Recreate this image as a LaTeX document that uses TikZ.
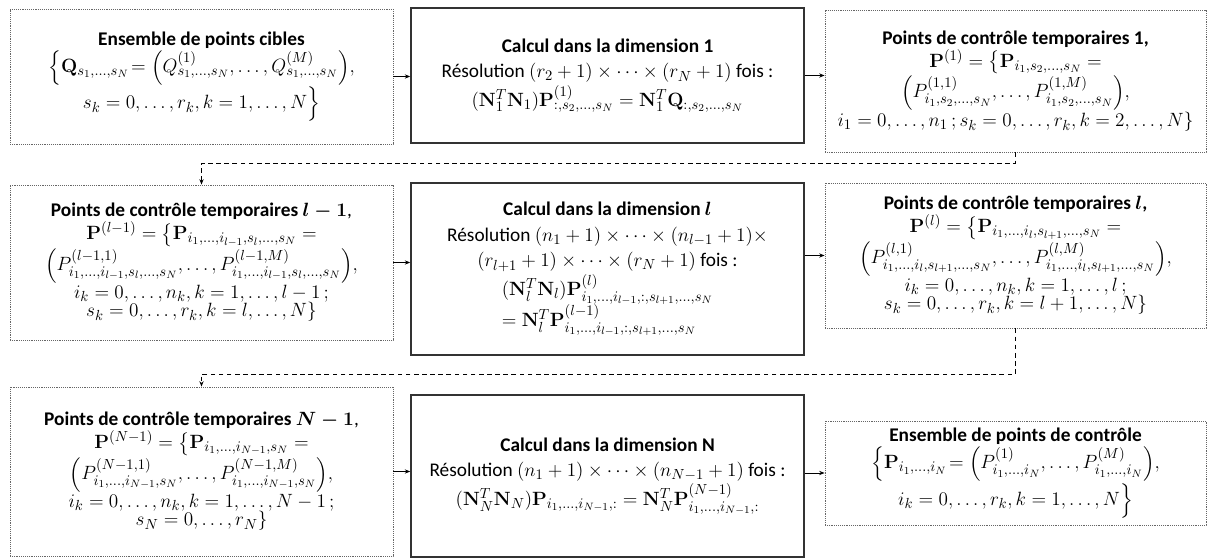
\documentclass[tikz,border=0pt]{standalone}
\usepackage{amsmath}
\usepackage[no-math]{fontspec}
\setmainfont{Carlito}
\DeclareMathSizes{14.5}{15}{10.5}{8}
\usetikzlibrary{arrows.meta}
\newcommand{\myboxfont}{\fontsize{14.5}{14}\selectfont\setlength{\lineskip}{1.5pt}}
\newcommand{\mycalcfont}{\fontsize{14.5}{19}\selectfont\setlength{\lineskip}{2pt}}
\tikzset{
  basebox/.style={align=center, inner sep=2pt, anchor=center},
  dotbox/.style={basebox, font=\myboxfont, draw=black!60, line width=0.7pt, dash pattern=on 0.7pt off 0.7pt},
  calcbox/.style={basebox, font=\mycalcfont, draw=black!80, line width=1.3pt},
  wA/.style={minimum width=287.25pt},
  wB/.style={minimum width=294.75pt},
  wC/.style={minimum width=285.75pt},
  conn/.style={-{Stealth[length=4pt,width=3.2pt]}, line width=0.6pt, draw=black},
  dconn/.style={conn, dash pattern=on 3.5pt off 2.6pt}
}
\begin{document}
\begin{tikzpicture}[x=0.75pt,y=-0.75pt]
\useasboundingbox (0,0) rectangle (1208,559);

% Row 1
\node[dotbox,wA,minimum height=101.25pt] (A) at (201.5,76.5)
 {\textbf{Ensemble de points cibles}\\
  $\Big\{\mathbf{Q}_{s_1,\dots,s_N}\!= \Big(Q^{(1)}_{s_1,\dots,s_N},\dots,Q^{(M)}_{s_1,\dots,s_N}\Big),$\\
  $s_k=0,\dots,r_k,k=1,\dots,N\Big\}$};
\node[calcbox,wB,minimum height=101.25pt] (B) at (607.5,75.5)
 {\textbf{Calcul dans la dimension 1}\\
  Résolution $(r_2+1)\times\cdots\times(r_N+1)$ fois :\\
  $(\mathbf{N}_1^T\mathbf{N}_1)\mathbf{P}^{(1)}_{:,s_2,\dots,s_N}=\mathbf{N}_1^T\mathbf{Q}_{:,s_2,\dots,s_N}$};
\node[dotbox,wC,minimum height=106.5pt] (C) at (1015.5,81)
 {\textbf{Points de contrôle temporaires 1,}\\
  $\mathbf{P}^{(1)}=\big\{\mathbf{P}_{i_1,s_2,\dots,s_N}=$\\
  $\Big(P^{(1,1)}_{i_1,s_2,\dots,s_N},\dots,P^{(1,M)}_{i_1,s_2,\dots,s_N}\Big),$\\
  $i_1=0,\dots,n_1\,;s_k=0,\dots,r_k,k=2,\dots,N\}$};

% Row 2
\node[dotbox,wA,minimum height=116.25pt] (D) at (201.5,262.5)
 {\textbf{Points de contrôle temporaires $\boldsymbol{l-1}$},\\
  $\mathbf{P}^{(l-1)}=\big\{\mathbf{P}_{i_1,\dots,i_{l-1},s_l,\dots,s_N}=$\\
  $\Big(P^{(l-1,1)}_{i_1,\dots,i_{l-1},s_l,\dots,s_N},\dots,P^{(l-1,M)}_{i_1,\dots,i_{l-1},s_l,\dots,s_N}\Big),$\\
  $i_k=0,\dots,n_k,k=1,\dots,l-1\,;$\\
  $s_k=0,\dots,r_k,k=l,\dots,N\}$};
\node[calcbox,wB,minimum height=129pt] (E) at (607.5,269)
 {\textbf{Calcul dans la dimension $\boldsymbol{l}$}\\
  Résolution $(n_1+1)\times\cdots\times(n_{l-1}+1)\times$\\
  $(r_{l+1}+1)\times\cdots\times(r_N+1)$ fois :\\
  \begin{tabular}{@{}l@{}}
  $(\mathbf{N}_l^T\mathbf{N}_l)\mathbf{P}^{(l)}_{i_1,\dots,i_{l-1},:,s_{l+1},\dots,s_N}$\\[1pt]
  $=\mathbf{N}_l^T\mathbf{P}^{(l-1)}_{i_1,\dots,i_{l-1},:,s_{l+1},\dots,s_N}$
  \end{tabular}};
\node[dotbox,wC,minimum height=108.75pt] (F) at (1015.5,255.5)
 {\textbf{Points de contrôle temporaires $\boldsymbol{l}$,}\\
  $\mathbf{P}^{(l)}=\big\{\mathbf{P}_{i_1,\dots,i_l,s_{l+1},\dots,s_N}=$\\
  $\Big(P^{(l,1)}_{i_1,\dots,i_l,s_{l+1},\dots,s_N},\dots,P^{(l,M)}_{i_1,\dots,i_l,s_{l+1},\dots,s_N}\Big),$\\
  $i_k=0,\dots,n_k,k=1,\dots,l\,;$\\
  $s_k=0,\dots,r_k,k=l+1,\dots,N\}$};

% Row 3
\node[dotbox,wA,minimum height=126.75pt] (G) at (201.5,471.5)
 {\textbf{Points de contrôle temporaires $\boldsymbol{N-1}$},\\
  $\mathbf{P}^{(N-1)}=\big\{\mathbf{P}_{i_1,\dots,i_{N-1},s_N}=$\\
  $\Big(P^{(N-1,1)}_{i_1,\dots,i_{N-1},s_N},\dots,P^{(N-1,M)}_{i_1,\dots,i_{N-1},s_N}\Big),$\\
  $i_k=0,\dots,n_k,k=1,\dots,N-1\,;$\\
  $s_N=0,\dots,r_N\}$};
\node[calcbox,wB,minimum height=121.5pt] (H) at (607.5,476)
 {\textbf{Calcul dans la dimension N}\\
  Résolution $(n_1+1)\times\cdots\times(n_{N-1}+1)$ fois :\\
  $(\mathbf{N}_N^T\mathbf{N}_N)\mathbf{P}_{i_1,\dots,i_{N-1},:}=\mathbf{N}_N^T\mathbf{P}^{(N-1)}_{i_1,\dots,i_{N-1},:}$};
\node[dotbox,wC,minimum height=78pt] (I) at (1015.5,473)
 {\textbf{Ensemble de points de contrôle}\\
  $\Big\{\mathbf{P}_{i_1,\dots,i_N}\!= \Big(P^{(1)}_{i_1,\dots,i_N},\dots,P^{(M)}_{i_1,\dots,i_N}\Big),$\\
  $i_k=0,\dots,r_k,k=1,\dots,N\Big\}$};

% connectors
\coordinate (m1) at (0,163);
\coordinate (m2) at (0,374);
\draw[conn] (A.east) -- (A.east -| B.west);
\draw[conn] (B.east) -- (B.east -| C.west);
\draw[conn] (D.east) -- (D.east -| E.west);
\draw[conn] (E.east |- F.west) -- (F.west);
\draw[conn] (G.east) -- (G.east -| H.west);
\draw[conn] (H.east |- I.west) -- (I.west);
\draw[dconn] (C.south) -- (C.south |- m1) -| (D.north);
\draw[dconn] (F.south) -- (F.south |- m2) -| (G.north);
\end{tikzpicture}
\end{document}
